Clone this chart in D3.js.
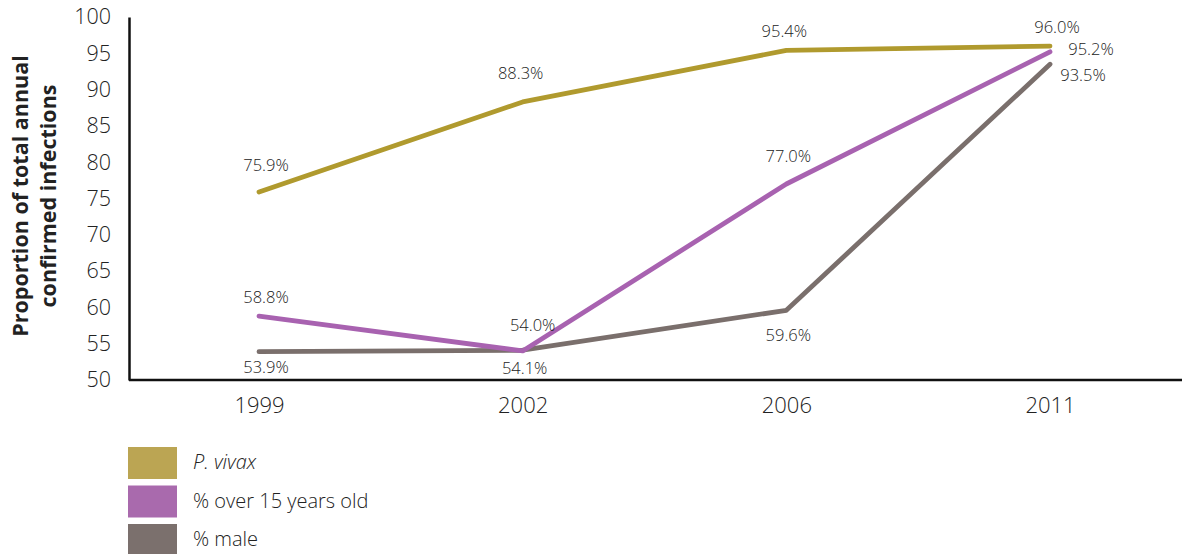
<!DOCTYPE html>
<html>
<head>
<meta charset="utf-8">
<script src="https://cdn.jsdelivr.net/npm/d3@7"></script>
<style>
  body { margin: 0; background: #fff; }
  text { font-family: "Open Sans", "Noto Sans", sans-serif; fill: #222; font-weight: 300; }
</style>
</head>
<body>
<div id="chart"></div>
<script>
// Data
const years = ["1999", "2002", "2006", "2011"];
const vivax = [75.9, 88.3, 95.4, 96.0];
const over15 = [58.8, 54.0, 77.0, 95.2];
const male = [53.9, 54.1, 59.6, 93.5];
const yTicks = [50, 55, 60, 65, 70, 75, 80, 85, 90, 95, 100];

const series = [
    { name: "% male", values: male, line: "#7a6f6c", swatch: "#7b706d",
      // label offsets [dx, dy] per point
      offsets: [[7, 17], [2, 19], [2, 26], [33, 12]] },
    { name: "% over 15 years old", values: over15, line: "#a862b0", swatch: "#a96aad",
      offsets: [[7, -18], [10, -24], [2, -26], [41, -1]] },
    { name: "P. vivax", values: vivax, line: "#b09a2e", swatch: "#bba553", italic: true,
      offsets: [[7, -25], [-2, -27], [-2, -18], [7, -17]] }
];

const W = 1182, H = 554;
const margin = { top: 17, right: 0, bottom: 174, left: 129 };
const width = W - margin.left - margin.right,
    height = H - margin.top - margin.bottom;

const svg = d3.select("#chart")
    .append("svg")
    .attr("width", W)
    .attr("height", H);

const g = svg.append("g")
    .attr("transform", "translate(" + margin.left + "," + margin.top + ")");

// X scale (categorical, evenly spaced)
const x = d3.scalePoint()
    .domain(years)
    .range([130, 921]);

// Y scale
const y = d3.scaleLinear()
    .domain([50, 100])
    .range([height, 0]);

// Y axis
const yAxis = g.append("g")
    .call(d3.axisLeft(y).tickValues(yTicks).tickSize(0).tickPadding(18));
yAxis.select(".domain").attr("stroke", "#111").attr("stroke-width", 2.5);
yAxis.selectAll("text").style("font-size", "21.5px");

// X axis
const xAxis = g.append("g")
    .attr("transform", "translate(0," + height + ")")
    .call(d3.axisBottom(x).tickSize(0).tickPadding(17));
xAxis.select(".domain")
    .attr("d", "M0,0H" + width)
    .attr("stroke", "#111").attr("stroke-width", 2.5);
xAxis.selectAll("text").style("font-size", "22px");

// Y axis title
svg.append("text")
    .attr("transform", "translate(28,196) rotate(-90)")
    .attr("text-anchor", "middle")
    .style("font-size", "21.5px")
    .style("font-weight", "bold")
    .style("fill", "#222")
    .selectAll("tspan")
    .data(["Proportion of total annual", "confirmed infections"])
    .enter()
    .append("tspan")
    .attr("x", 0)
    .attr("dy", function(d, i) { return i === 0 ? "0" : "1.3em"; })
    .text(function(d) { return d; });

// Lines
const line = d3.line()
    .x(function(d, i) { return x(years[i]); })
    .y(function(d) { return y(d); });

series.forEach(function(s) {
    g.append("path")
        .datum(s.values)
        .attr("d", line)
        .attr("fill", "none")
        .attr("stroke", s.line)
        .attr("stroke-width", 4.8)
        .attr("stroke-linecap", "round")
        .attr("stroke-linejoin", "round");
});

// Value labels
series.forEach(function(s) {
    g.selectAll(null)
        .data(s.values)
        .enter()
        .append("text")
        .attr("x", function(d, i) { return x(years[i]) + s.offsets[i][0]; })
        .attr("y", function(d, i) { return y(d) + s.offsets[i][1]; })
        .attr("text-anchor", "middle")
        .attr("dominant-baseline", "middle")
        .style("font-size", "16.5px")
        .text(function(d) { return d.toFixed(1) + "%"; });
});

// Legend
const legendOrder = [series[2], series[1], series[0]];
const legend = svg.append("g")
    .attr("transform", "translate(128,447)");
const item = legend.selectAll("g")
    .data(legendOrder)
    .enter()
    .append("g")
    .attr("transform", function(d, i) { return "translate(0," + (i * 38.5) + ")"; });
item.append("rect")
    .attr("width", 49)
    .attr("height", 32)
    .attr("fill", function(d) { return d.swatch; });
item.append("text")
    .attr("x", 65)
    .attr("y", 17)
    .attr("dominant-baseline", "middle")
    .style("font-size", "20px")
    .style("font-style", function(d) { return d.italic ? "italic" : "normal"; })
    .text(function(d) { return d.name; });
</script>
</body>
</html>
